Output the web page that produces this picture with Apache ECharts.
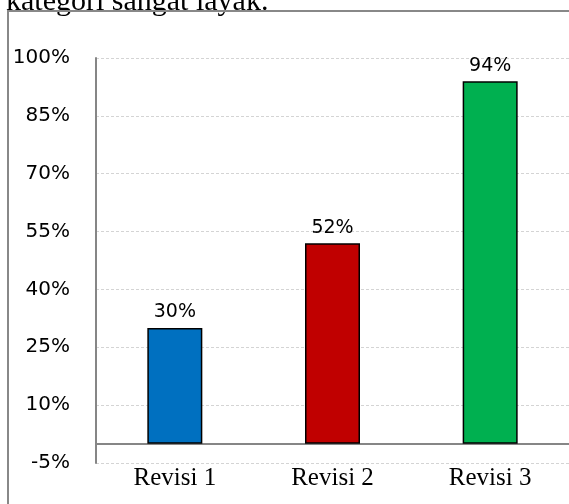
<!DOCTYPE html>
<html>
<head>
<meta charset="utf-8">
<script src="https://cdn.jsdelivr.net/npm/echarts@6/dist/echarts.min.js"></script>
<style>
html,body{margin:0;padding:0;background:#fff;}
#chart{width:569px;height:504px;}
</style>
</head>
<body>
<div id="chart"></div>
<script>
var categories = ['Revisi 1', 'Revisi 2', 'Revisi 3'];
var values = [30, 52, 94];
var barColors = ['#0070C0', '#C00000', '#00B050'];
var yMin = -5, yMax = 100, yStep = 15;
var captionText = 'kategori sangat layak.';

var chart = echarts.init(document.getElementById('chart'), null, {renderer: 'canvas'});
chart.setOption({
  animation: false,
  backgroundColor: '#fff',
  graphic: [
    {type: 'rect', shape: {x: 8, y: 11, width: 620, height: 620},
     style: {fill: 'none', stroke: '#888', lineWidth: 2}, z: 100},
    {type: 'text', left: 6, top: -13,
     style: {text: captionText, font: '30px "Liberation Serif", "Times New Roman", serif', fill: '#000'}}
  ],
  grid: {left: 96, top: 58, right: -6, bottom: 41, containLabel: false},
  xAxis: {
    type: 'category',
    data: categories,
    axisLine: {show: true, onZero: true, lineStyle: {color: '#868686', width: 2}},
    axisTick: {show: false},
    axisLabel: {margin: 3, fontFamily: '"Liberation Serif", "Times New Roman", serif', fontSize: 25, color: '#000'},
    splitLine: {show: false}
  },
  yAxis: {
    type: 'value',
    min: yMin, max: yMax, interval: yStep,
    axisLine: {show: true, lineStyle: {color: '#868686', width: 2}},
    axisTick: {show: false},
    axisLabel: {margin: 26, fontFamily: '"DejaVu Sans", sans-serif', fontSize: 20, color: '#000',
      formatter: function (v) { return v + '%'; }},
    splitLine: {show: true, lineStyle: {color: '#d4d4d4', type: [3, 2], width: 1}}
  },
  series: [{
    type: 'bar',
    barWidth: 55,
    data: values.map(function (v, i) {
      return {value: v, itemStyle: {color: barColors[i], borderColor: '#000', borderWidth: 1.5}};
    }),
    label: {show: true, position: 'top', distance: 6, color: '#000',
      fontFamily: '"DejaVu Sans", sans-serif', fontSize: 19,
      formatter: function (p) { return p.value + '%'; }}
  }]
});
</script>
</body>
</html>
